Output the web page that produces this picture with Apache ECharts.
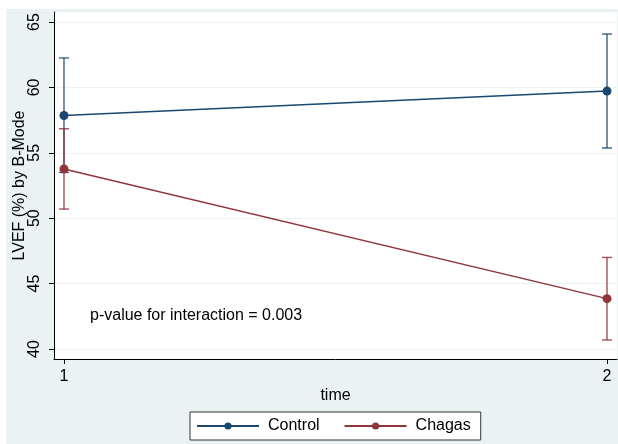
<!DOCTYPE html>
<html>
<head>
<meta charset="utf-8">
<script src="https://cdn.jsdelivr.net/npm/echarts@6/dist/echarts.min.js"></script>
<style>
  html, body { margin: 0; padding: 0; background: #ffffff; }
  #chart { position: absolute; left: 6px; top: 9px; width: 612px; height: 435px; }
</style>
</head>
<body>
<div id="chart"></div>
<script>
// LVEF by B-Mode over time, Control vs Chagas (mean with confidence interval)
const timePoints = [1, 2];
const controlMean = [57.85, 59.72];
const controlLow = [53.5, 55.37];
const controlHigh = [62.25, 64.08];
const chagasMean = [53.76, 43.85];
const chagasLow = [50.7, 40.69];
const chagasHigh = [56.84, 47.0];
const yTicks = [40, 45, 50, 55, 60, 65];
const xTicks = [1, 2];
const annotation = 'p-value for interaction = 0.003';

const navy = '#1a476f';
const maroon = '#90353b';
const font = 'Liberation Sans, Arial, Helvetica, sans-serif';
const fs = 16;

function errorBars(color) {
  return function (params, api) {
    const x = api.value(0);
    const lo = api.coord([x, api.value(1)]);
    const hi = api.coord([x, api.value(2)]);
    const half = 5;
    const style = { stroke: color, lineWidth: 1.4, opacity: 0.85 };
    return {
      type: 'group',
      children: [
        { type: 'line', shape: { x1: lo[0], y1: lo[1], x2: hi[0], y2: hi[1] }, style },
        { type: 'line', shape: { x1: lo[0] - half, y1: lo[1], x2: lo[0] + half, y2: lo[1] }, style },
        { type: 'line', shape: { x1: hi[0] - half, y1: hi[1], x2: hi[0] + half, y2: hi[1] }, style }
      ]
    };
  };
}

const chart = echarts.init(document.getElementById('chart'), null, { renderer: 'canvas' });

chart.setOption({
  backgroundColor: '#eaf2f3',
  animation: false,
  textStyle: { fontFamily: font },
  grid: {
    left: 48, right: 1, top: 3, bottom: 85,
    outerBoundsMode: 'none', containLabel: false,
    show: true, backgroundColor: '#ffffff', borderWidth: 0
  },
  xAxis: {
    type: 'value',
    min: 0.9816, max: 2.0184,
    name: 'time', nameLocation: 'middle', nameGap: 29, nameMoveOverlap: false,
    nameTextStyle: { fontSize: fs, color: '#000', fontFamily: font },
    axisLine: { show: true, lineStyle: { color: '#000', width: 1 } },
    axisTick: { show: true, length: 5, customValues: xTicks, lineStyle: { color: '#000' } },
    axisLabel: { customValues: xTicks, fontSize: fs, color: '#000', margin: 10, formatter: v => String(v) },
    splitLine: { show: false }
  },
  yAxis: {
    type: 'value',
    min: 39.235, max: 65.765,
    name: 'LVEF (%) by B-Mode', nameLocation: 'middle', nameGap: 26, nameMoveOverlap: false,
    nameTextStyle: { fontSize: fs, color: '#000', fontFamily: font },
    axisLine: { show: true, lineStyle: { color: '#000', width: 1 } },
    axisTick: { show: true, length: 5, customValues: yTicks, lineStyle: { color: '#000' } },
    axisLabel: { customValues: yTicks, fontSize: fs, color: '#000', rotate: 90, margin: 11 },
    splitLine: { show: true, lineStyle: { color: '#eaf2f3', width: 1.2 } }
  },
  legend: {
    left: 184, top: 403,
    orient: 'horizontal',
    backgroundColor: '#ffffff',
    borderColor: '#333333', borderWidth: 1, borderRadius: 0,
    padding: [6, 10, 6, 6],
    itemWidth: 62, itemHeight: 9, itemGap: 24,
    textStyle: { fontSize: fs, color: '#000', fontFamily: font, padding: [0, 0, 0, 4] },
    data: ['Control', 'Chagas']
  },
  graphic: [{
    type: 'text', left: 84, top: 299,
    style: { text: annotation, fill: '#000', font: fs + 'px ' + font }
  }],
  series: [
    {
      type: 'custom', name: 'Control CI', silent: true,
      renderItem: errorBars(navy),
      encode: { x: 0, y: [1, 2] },
      data: timePoints.map((t, i) => [t, controlLow[i], controlHigh[i]]),
      z: 2
    },
    {
      type: 'line', name: 'Control',
      data: timePoints.map((t, i) => [t, controlMean[i]]),
      symbol: 'circle', symbolSize: 9,
      itemStyle: { color: navy },
      lineStyle: { color: navy, width: 1.5 },
      z: 3
    },
    {
      type: 'custom', name: 'Chagas CI', silent: true,
      renderItem: errorBars(maroon),
      encode: { x: 0, y: [1, 2] },
      data: timePoints.map((t, i) => [t, chagasLow[i], chagasHigh[i]]),
      z: 4
    },
    {
      type: 'line', name: 'Chagas',
      data: timePoints.map((t, i) => [t, chagasMean[i]]),
      symbol: 'circle', symbolSize: 9,
      itemStyle: { color: maroon },
      lineStyle: { color: maroon, width: 1.5 },
      z: 5
    }
  ]
});
</script>
</body>
</html>
